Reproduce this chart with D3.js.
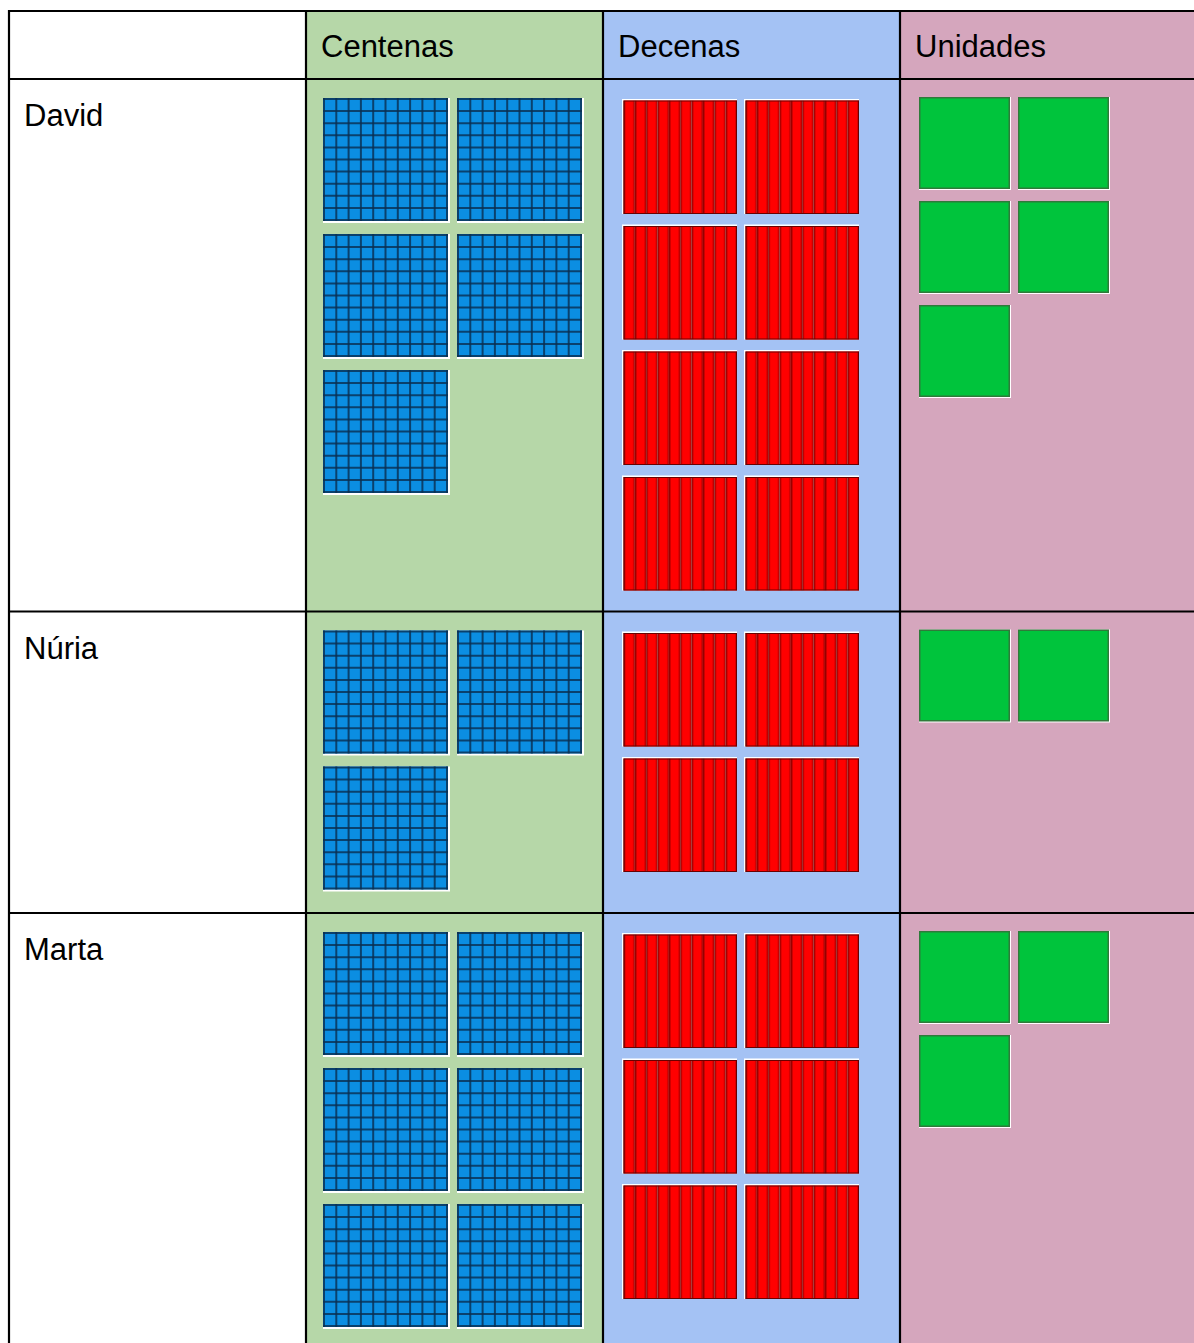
<!DOCTYPE html>
<html><head><meta charset="utf-8">
<script src="https://cdn.jsdelivr.net/npm/d3@7"></script>
<style>html,body{margin:0;padding:0;background:#fff;overflow:hidden}</style>
</head><body>
<svg id="c" width="1194" height="1343"></svg>
<script>
const headers = ["", "Centenas", "Decenas", "Unidades"];
const names = ["David", "Núria", "Marta"];
const centenas = [5, 3, 6];
const decenas = [8, 4, 6];
const unidades = [5, 2, 3];

const svg = d3.select("#c");
const W = 1194, H = 1343;
const tLeft = 9, tTop = 11, colW = 297, headH = 68;

const colX = d3.scaleLinear().domain([0, 1]).range([tLeft, tLeft + colW]);
const colBg = ["#ffffff", "#b6d7a8", "#a4c2f4", "#d5a6bd"];

const specs = [
  null,
  {dx: 17, dy: 19, px: 134, py: 136, w: 127, h: 125, type: "h"},
  {dx: 19, dy: 20, px: 122, py: 125.5, w: 115, h: 115, type: "t"},
  {dx: 19, dy: 18, px: 99, py: 104, w: 92, h: 93, type: "u"}
];
const data = names.map((n, i) => ({name: n, counts: [0, centenas[i], decenas[i], unidades[i]]}));

const rowH = data.map(d => d3.max([1, 2, 3], c => specs[c].dy + Math.ceil(d.counts[c] / 2) * specs[c].py) + 10.5);
const rowY = [tTop + headH];
rowH.forEach((h, i) => rowY.push(rowY[i] + h));

svg.selectAll("rect.bg").data(colBg).join("rect").attr("class", "bg")
  .attr("x", (d, i) => colX(i)).attr("y", tTop)
  .attr("width", colW).attr("height", H - tTop)
  .attr("fill", d => d);

const defs = svg.append("defs");
const gT = defs.append("linearGradient").attr("id", "bar");
gT.append("stop").attr("offset", "0%").attr("stop-color", "#7a0000");
gT.append("stop").attr("offset", "22%").attr("stop-color", "#ff0000");
gT.append("stop").attr("offset", "78%").attr("stop-color", "#ff0000");
gT.append("stop").attr("offset", "100%").attr("stop-color", "#a00000");

function drawBlock(g, type, w, h) {
  if (type === "h") {
    g.append("rect").attr("x", 0).attr("y", 0).attr("width", w).attr("height", h).attr("fill", "#ffffff");
    const iw = w - 2, ih = h - 2;
    g.append("rect").attr("width", iw).attr("height", ih).attr("fill", "#0b8ee2");
    const sx = d3.scaleLinear().domain([0, 10]).range([1, iw - 1]);
    const sy = d3.scaleLinear().domain([0, 10]).range([1, ih - 1]);
    const idx = d3.range(11);
    g.selectAll("line.v").data(idx).join("line").attr("class", "v")
      .attr("x1", sx).attr("x2", sx).attr("y1", 0).attr("y2", ih)
      .attr("stroke", "#0a2e50").attr("stroke-width", 2).attr("stroke-opacity", 0.8);
    g.selectAll("line.h").data(idx).join("line").attr("class", "h")
      .attr("y1", sy).attr("y2", sy).attr("x1", 0).attr("x2", iw)
      .attr("stroke", "#0a2e50").attr("stroke-width", 2).attr("stroke-opacity", 0.8);
  } else if (type === "t") {
    g.append("rect").attr("width", w).attr("height", h).attr("fill", "#ffffff");
    const bx = d3.scaleLinear().domain([0, 10]).range([1.5, w]);
    g.selectAll("rect.bar").data(d3.range(10)).join("rect").attr("class", "bar")
      .attr("x", i => bx(i)).attr("y", 1.5)
      .attr("width", i => bx(i + 1) - bx(i)).attr("height", h - 1.5)
      .attr("fill", "url(#bar)");
    g.append("rect").attr("x", 2).attr("y", 2).attr("width", w - 2.5).attr("height", h - 2.5)
      .attr("fill", "none").attr("stroke", "#6a0000").attr("stroke-width", 1);
  } else {
    g.append("rect").attr("width", w).attr("height", h).attr("fill", "#ffffff");
    g.append("rect").attr("x", 0.75).attr("y", 0.75).attr("width", w - 2.5).attr("height", h - 2.5)
      .attr("fill", "#00c43c").attr("stroke", "#2f7a3a").attr("stroke-width", 1.5);
  }
}

data.forEach((d, r) => {
  [1, 2, 3].forEach(c => {
    const s = specs[c];
    const sx = d3.scaleLinear().domain([0, 1]).range([colX(c) + s.dx, colX(c) + s.dx + s.px]);
    const sy = d3.scaleLinear().domain([0, 1]).range([rowY[r] + s.dy, rowY[r] + s.dy + s.py]);
    d3.range(d.counts[c]).forEach(k => {
      const g = svg.append("g").attr("transform", `translate(${sx(k % 2)},${sy(Math.floor(k / 2))})`);
      drawBlock(g, s.type, s.w, s.h);
    });
  });
});

const lineColor = "#000";
svg.selectAll("line.col").data([0, 1, 2, 3, 4]).join("line").attr("class", "col")
  .attr("x1", i => colX(i)).attr("x2", i => colX(i))
  .attr("y1", tTop - 1).attr("y2", H)
  .attr("stroke", lineColor).attr("stroke-width", 2.2);
svg.selectAll("line.row").data([tTop].concat(rowY)).join("line").attr("class", "row")
  .attr("x1", tLeft - 1).attr("x2", W)
  .attr("y1", d => d).attr("y2", d => d)
  .attr("stroke", lineColor).attr("stroke-width", 2.2);

const font = "'Liberation Sans', Arial, sans-serif";
svg.selectAll("text.hd").data(headers).join("text").attr("class", "hd")
  .attr("x", (d, i) => colX(i) + 15).attr("y", tTop + 46)
  .attr("font-family", font).attr("font-size", 31).attr("fill", "#000")
  .text(d => d);
svg.selectAll("text.nm").data(data).join("text").attr("class", "nm")
  .attr("x", colX(0) + 15).attr("y", (d, i) => rowY[i] + 47)
  .attr("font-family", font).attr("font-size", 31).attr("fill", "#000")
  .text(d => d.name);
</script>
</body></html>
